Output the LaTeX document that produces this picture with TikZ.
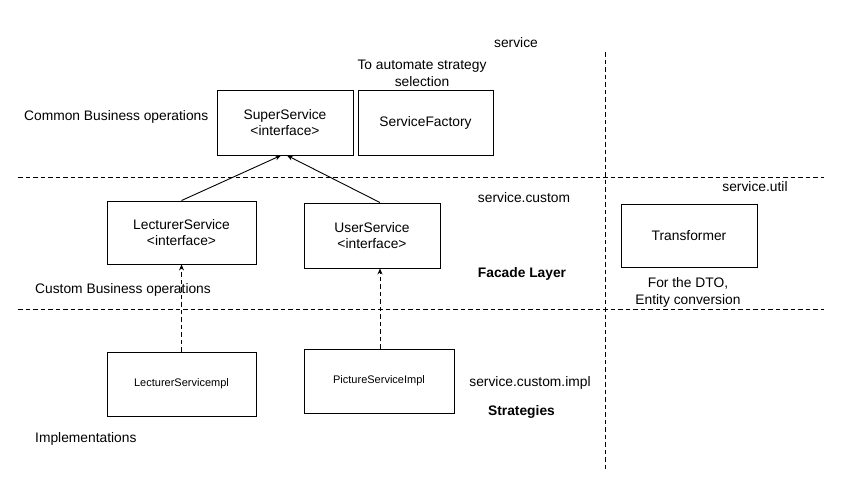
\documentclass[tikz,border=0pt]{standalone}
\usepackage{fontspec}
\setmainfont{Liberation Sans}
\usetikzlibrary{arrows.meta}
\begin{document}
\begin{tikzpicture}[x=1pt,y=-1pt,
  box/.style={draw,line width=0.9pt,inner sep=0pt,align=center,font=\fontsize{13.8}{16}\selectfont},
  smallbox/.style={box,font=\fontsize{11}{13}\selectfont},
  lbl/.style={inner sep=0pt,align=center,font=\fontsize{13.8}{17}\selectfont},
  blbl/.style={lbl,font=\fontsize{13.8}{17}\selectfont\bfseries},
  sep/.style={line width=0.8pt,dash pattern=on 4.5pt off 3pt},
  gen/.style={line width=0.9pt,-{Stealth[length=6pt,width=5pt]}},
  dep/.style={line width=0.8pt,dash pattern=on 4.5pt off 3pt,-{Stealth[length=6pt,width=5pt]}}]
\useasboundingbox (0,0) rectangle (852,488);
% separators
\coordinate (h1a) at (18,177); \coordinate (h1b) at (824,177);
\coordinate (h2a) at (18,309); \coordinate (h2b) at (824,309);
\coordinate (v1a) at (605,52); \coordinate (v1b) at (605,470);
\draw[sep] (h1a) -- (h1b);
\draw[sep] (h2a) -- (h2b);
\draw[sep] (v1a) -- (v1b);
% boxes
\node[box,minimum width=136pt,minimum height=65pt] (super) at (285,122.5) {SuperService\\\textless interface\textgreater};
\node[box,minimum width=135pt,minimum height=65pt] (factory) at (425.5,122.5) {ServiceFactory};
\node[box,minimum width=149pt,minimum height=63pt] (lect) at (181.5,232.5) {LecturerService\\\textless interface\textgreater};
\node[box,minimum width=136pt,minimum height=65pt] (user) at (372,235.5) {UserService\\\textless interface\textgreater};
\node[box,minimum width=136pt,minimum height=63pt] (trans) at (689,236) {Transformer};
\node[smallbox,minimum width=149pt,minimum height=64pt] (lectimpl) at (181.5,384) {LecturerServicempl};
\node[smallbox,minimum width=150pt,minimum height=64pt] (picimpl) at (379,381) {PictureServiceImpl};
% labels
\node[lbl] (lservice) at (516,43) {service};
\node[lbl] (lauto) at (422,73) {To automate strategy\\selection};
\node[lbl,anchor=west] (lcommon) at (24,116.5) {Common Business operations};
\node[lbl] (lcustom) at (524,198) {service.custom};
\node[blbl] (lfacade) at (522,274) {Facade Layer};
\node[lbl,anchor=west] (lcustomops) at (35,290) {Custom Business operations};
\node[lbl] (lutil) at (755,187) {service.util};
\node[lbl] (ldto) at (688,292.5) {For the DTO,\\Entity conversion};
\node[lbl] (limpl) at (530,383) {service.custom.impl};
\node[blbl] (lstrat) at (521.5,412) {Strategies};
\node[lbl,anchor=west] (limplementations) at (35,439) {Implementations};
% connectors
\draw[gen] (lect.north) -- ([xshift=-4pt]super.south);
\draw[gen] ([xshift=8pt]user.north) -- ([xshift=2pt]super.south);
\draw[dep] (lectimpl.north) -- (lect.south);
\draw[dep] ([xshift=1pt]picimpl.north) -- ([xshift=8pt]user.south);
\end{tikzpicture}
\end{document}
